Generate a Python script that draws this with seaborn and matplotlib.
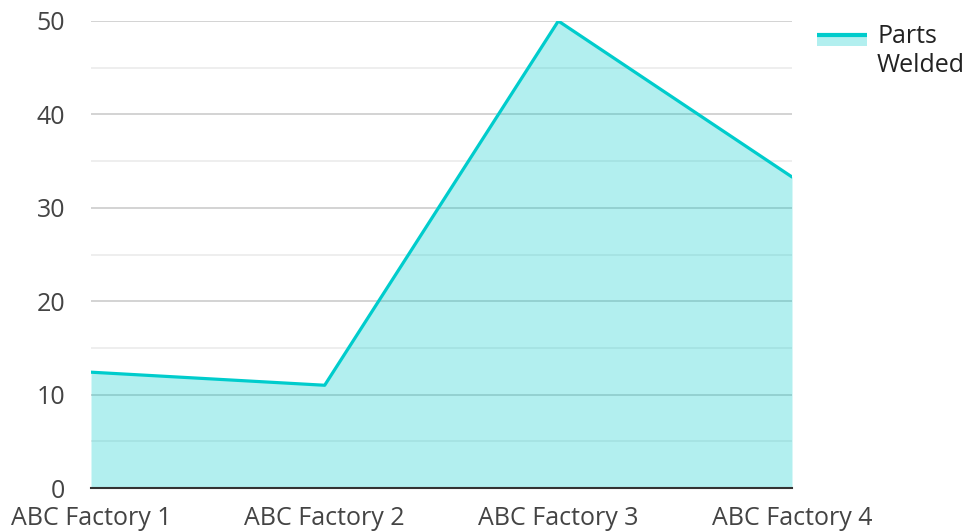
import matplotlib.pyplot as plt
import numpy as np
import pandas as pd
import seaborn as sns
from matplotlib.legend_handler import HandlerBase
from matplotlib.lines import Line2D
from matplotlib.patches import Rectangle

factories = ["ABC Factory 1", "ABC Factory 2", "ABC Factory 3", "ABC Factory 4"]
parts_welded = [12.4, 11.0, 50.0, 33.3]
series_name = "Parts\nWelded"

line_color = "#00cccc"


class AreaHandler(HandlerBase):
    """Legend key: pale band with the series line along its top edge."""

    def create_artists(self, legend, orig_handle, xdescent, ydescent,
                       width, height, fontsize, trans):
        top = height + fontsize * 0.33
        band = Rectangle((-xdescent, top - 8.5), width, 8.5, facecolor=line_color,
                         alpha=0.3, linewidth=0, transform=trans)
        edge = Line2D([-xdescent, -xdescent + width], [top, top], color=line_color,
                      linewidth=3, solid_capstyle="butt", transform=trans)
        return [band, edge]


sns.set_theme(style="white")
plt.rcParams["font.family"] = ["Open Sans", "DejaVu Sans"]

df = pd.DataFrame({"factory": factories, "value": parts_welded})

fig = plt.figure(figsize=(9.66, 5.31), dpi=100)
ax = fig.add_axes([91 / 966, 1 - 488 / 531, (792 - 91) / 966, (488 - 21) / 531])

# Gridlines first so the translucent fill darkens them
ax.set_axisbelow(True)
ax.set_yticks(np.arange(0, 51, 10))
ax.set_yticks(np.arange(5, 50, 10), minor=True)
ax.grid(axis="y", which="major", color="#cccccc", linewidth=1.2)
ax.grid(axis="y", which="minor", color="#ebebeb", linewidth=1.2)

sns.lineplot(data=df, x="factory", y="value", color=line_color, linewidth=2.3, ax=ax)
ax.fill_between(np.arange(len(factories)), df["value"], color=line_color, alpha=0.3,
                linewidth=0)

ax.set_xlim(0, len(factories) - 1)
ax.set_ylim(0, 50)
ax.set_xlabel("")
ax.set_ylabel("")
ax.tick_params(axis="both", which="both", length=0, labelsize=18, colors="#444444")
ax.tick_params(axis="y", pad=18.5)
ax.tick_params(axis="x", pad=13)

for side in ["left", "right", "top"]:
    ax.spines[side].set_visible(False)
ax.spines["bottom"].set_color("#333333")
ax.spines["bottom"].set_linewidth(1.5)

key = object()
fig.legend([key], [series_name], handler_map={key: AreaHandler()},
           loc="upper left", bbox_to_anchor=(817 / 966, 1 - 24 / 531),
           frameon=False, fontsize=18, handlelength=2.0, handletextpad=0.4,
           labelcolor="#222222", borderaxespad=0, borderpad=0)

fig.savefig("out.png", dpi=100)
